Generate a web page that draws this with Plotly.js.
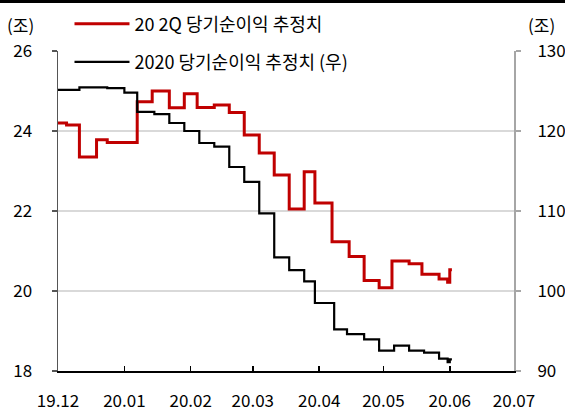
<!DOCTYPE html>
<html>
<head>
<meta charset="utf-8">
<script src="https://cdn.plot.ly/plotly-3.0.1.min.js"></script>
<style>
  html, body { margin: 0; padding: 0; background: #fff; }
  #chart { width: 565px; height: 414px; }
  #topbar { position: absolute; left: 0; top: 0; width: 565px; height: 3px; background: #000; z-index: 10; }
</style>
</head>
<body>
<div id="topbar"></div>
<div id="chart"></div>
<script>
// 20 2Q 당기순이익 추정치 (left axis, 조)
const datesRed = ['2019-12-01','2019-12-05','2019-12-11','2019-12-19','2019-12-24','2020-01-07','2020-01-14','2020-01-22','2020-01-29','2020-02-04','2020-02-12','2020-02-19','2020-02-26','2020-03-04','2020-03-11','2020-03-18','2020-03-25','2020-03-30','2020-04-07','2020-04-15','2020-04-22','2020-04-29','2020-05-05','2020-05-13','2020-05-19','2020-05-27','2020-05-31','2020-06-01','2020-06-02'];
const valuesRed = [24.2,24.15,23.35,23.78,23.71,24.73,25.0,24.58,24.93,24.59,24.65,24.46,23.9,23.45,22.9,22.05,22.98,22.2,21.23,20.86,20.26,20.08,20.75,20.68,20.42,20.3,20.22,20.53,20.53];

// 2020 당기순이익 추정치 (우) (right axis, 조)
const datesBlack = ['2019-12-01','2019-12-11','2019-12-24','2020-01-01','2020-01-07','2020-01-15','2020-01-22','2020-01-29','2020-02-05','2020-02-12','2020-02-19','2020-02-26','2020-03-04','2020-03-11','2020-03-18','2020-03-25','2020-03-30','2020-04-08','2020-04-14','2020-04-22','2020-04-29','2020-05-06','2020-05-13','2020-05-20','2020-05-27','2020-05-31','2020-06-01','2020-06-02'];
const valuesBlack = [125.15,125.45,125.35,124.8,122.4,122.1,121.0,120.0,118.5,118.05,115.5,113.65,109.7,104.2,102.6,101.2,98.5,95.2,94.6,93.96,92.54,93.16,92.54,92.3,91.54,91.1,91.45,91.45];

const xTickVals = ['2019-12-01','2020-01-01','2020-02-01','2020-03-01','2020-04-01','2020-05-01','2020-06-01','2020-07-01'];
const xTickText = ['19.12','20.01','20.02','20.03','20.04','20.05','20.06','20.07'];
const seriesNames = ['20 2Q 당기순이익 추정치', '2020 당기순이익 추정치 (우)'];
const unitLabel = '(조)';

const FONT = '"Noto Sans CJK KR", "Noto Sans", sans-serif';

const traces = [
  {
    x: datesRed, y: valuesRed, name: seriesNames[0], type: 'scatter', mode: 'lines',
    line: { color: '#c00000', width: 3, shape: 'hv' }, yaxis: 'y', legend: 'legend'
  },
  {
    x: datesBlack, y: valuesBlack, name: seriesNames[1], type: 'scatter', mode: 'lines',
    line: { color: '#000000', width: 2.2, shape: 'hv' }, yaxis: 'y2', legend: 'legend2'
  }
];

const layout = {
  width: 565, height: 414,
  margin: { l: 58, r: 51, t: 51, b: 43, pad: 0, autoexpand: false },
  paper_bgcolor: '#fff', plot_bgcolor: '#fff',
  font: { family: FONT, size: 17, color: '#000' },
  showlegend: true,
  xaxis: {
    type: 'date', range: ['2019-12-01', '2020-07-01'],
    tickmode: 'array', tickvals: xTickVals, ticktext: xTickText,
    ticks: 'inside', ticklen: 5, tickwidth: 1.5, tickcolor: '#000',
    showline: true, linecolor: '#000', linewidth: 1.5,
    showgrid: false, zeroline: false,
    tickfont: { family: FONT, size: 17, color: '#000' },
    ticklabelstandoff: 14
  },
  yaxis: {
    range: [18, 26], dtick: 2, tick0: 18,
    ticks: 'outside', ticklen: 5, tickwidth: 1.5, tickcolor: '#555',
    showline: true, linecolor: '#555', linewidth: 1.5,
    showgrid: true, gridcolor: '#d9d9d9', gridwidth: 2, zeroline: false,
    tickfont: { family: FONT, size: 17, color: '#000' },
    ticklabelstandoff: 16
  },
  yaxis2: {
    range: [90, 130], dtick: 10, tick0: 90,
    overlaying: 'y', side: 'right',
    ticks: 'outside', ticklen: 5, tickwidth: 1.5, tickcolor: '#a6a6a6',
    showline: true, linecolor: '#a6a6a6', linewidth: 2,
    showgrid: false, zeroline: false,
    tickfont: { family: FONT, size: 17, color: '#000' },
    ticklabelstandoff: 13
  },
  legend: {
    xref: 'container', yref: 'container',
    x: 0.123, y: 0.942, xanchor: 'left', yanchor: 'middle',
    bgcolor: 'rgba(0,0,0,0)', borderwidth: 0,
    font: { family: FONT, size: 18, color: '#000' },
    itemwidth: 55
  },
  legend2: {
    xref: 'container', yref: 'container',
    x: 0.123, y: 0.850, xanchor: 'left', yanchor: 'middle',
    bgcolor: 'rgba(0,0,0,0)', borderwidth: 0,
    font: { family: FONT, size: 18, color: '#000' },
    itemwidth: 55
  },
  annotations: [
    { xref: 'paper', yref: 'paper', x: -0.083, y: 1.036, text: unitLabel, showarrow: false,
      xanchor: 'center', yanchor: 'bottom', font: { family: FONT, size: 17, color: '#000' } },
    { xref: 'paper', yref: 'paper', x: 1.06, y: 1.036, text: unitLabel, showarrow: false,
      xanchor: 'center', yanchor: 'bottom', font: { family: FONT, size: 17, color: '#000' } }
  ]
};

Plotly.newPlot('chart', traces, layout, { displayModeBar: false, staticPlot: true });
</script>
</body>
</html>
